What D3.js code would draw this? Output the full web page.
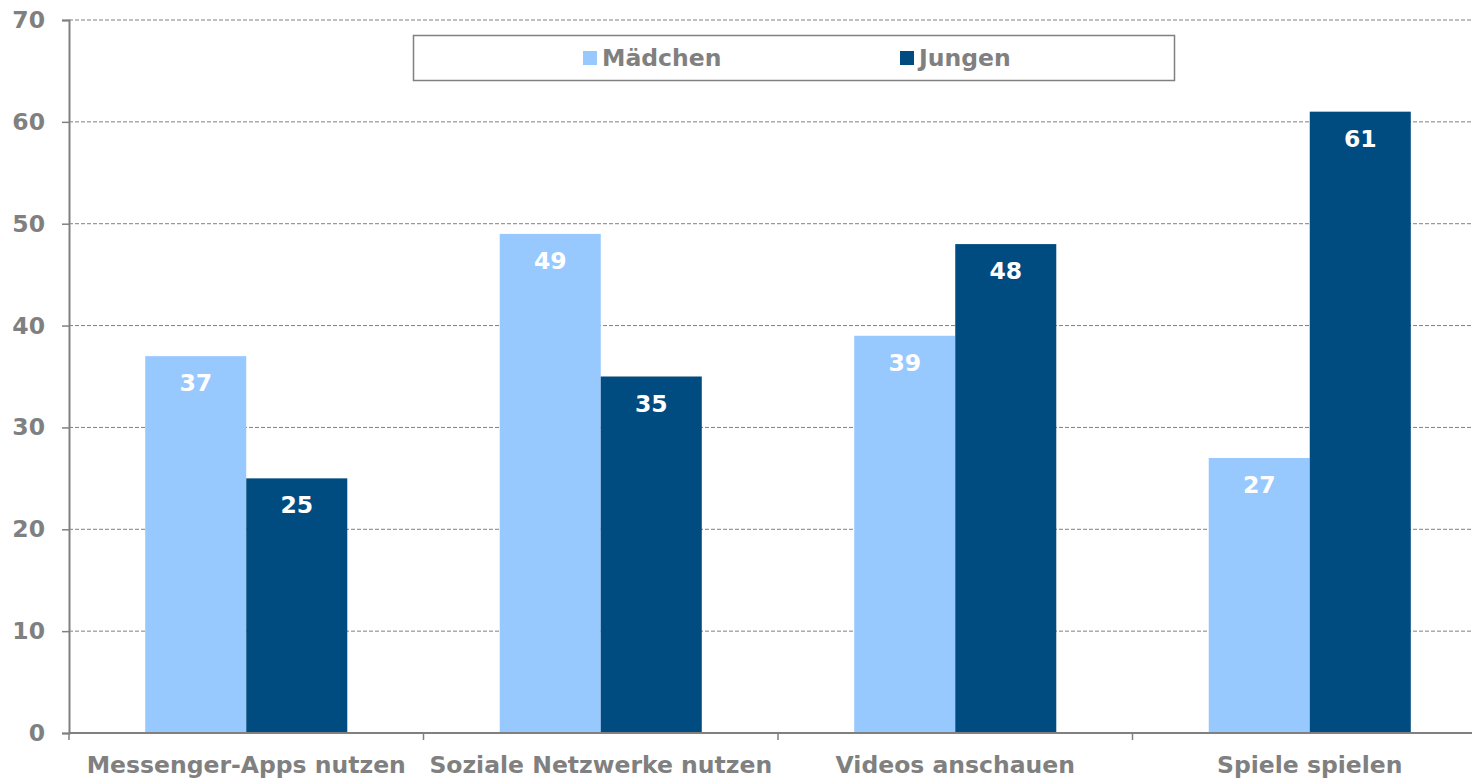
<!DOCTYPE html>
<html>
<head>
<meta charset="utf-8">
<script src="https://cdn.jsdelivr.net/npm/d3@7"></script>
<style>
  body { margin: 0; background: #fff; }
  svg { display: block; }
  text { font-family: "DejaVu Sans", Verdana, sans-serif; font-weight: bold; }
</style>
</head>
<body>
<svg id="chart" width="1472" height="779"></svg>
<script>
// data
const categories = ["Messenger-Apps nutzen", "Soziale Netzwerke nutzen", "Videos anschauen", "Spiele spielen"];
const seriesNames = ["Mädchen", "Jungen"];
const maedchen = [37, 49, 39, 27];
const jungen = [25, 35, 48, 61];
const yTicks = [0, 10, 20, 30, 40, 50, 60, 70];
const colors = ["#97C9FF", "#004B7F"];

const svg = d3.select("#chart");
const margin = {left: 69, top: 20, bottom: 46};
const plotW = 354.5 * 4;
const plotH = 779 - margin.top - margin.bottom;
const gray = "#808080";
const fs = 23.5;

const rows = categories.map((c, i) => ({cat: c, values: [maedchen[i], jungen[i]]}));

const x0 = d3.scaleBand().domain(categories).range([0, plotW]).padding(0);
const bw = x0.bandwidth();
const x1 = d3.scaleBand().domain(seriesNames).range([bw * 0.215, bw * 0.785]).padding(0);
const y = d3.scaleLinear().domain([0, 70]).range([plotH, 0]);

const g = svg.append("g").attr("transform", `translate(${margin.left},${margin.top})`);

// gridlines
g.selectAll(".grid").data(yTicks.filter(d => d > 0)).enter()
  .append("line")
  .attr("x1", 0).attr("x2", plotW)
  .attr("y1", d => y(d)).attr("y2", d => y(d))
  .attr("stroke", gray).attr("stroke-width", 1)
  .attr("stroke-dasharray", "4,2");

// bars
const groups = g.selectAll(".grp").data(rows).enter()
  .append("g").attr("transform", d => `translate(${x0(d.cat)},0)`);

groups.selectAll("rect").data(d => d.values.map((v, i) => ({s: seriesNames[i], v: v, i: i}))).enter()
  .append("rect")
  .attr("x", d => x1(d.s))
  .attr("y", d => y(d.v))
  .attr("width", x1.bandwidth())
  .attr("height", d => plotH - y(d.v))
  .attr("fill", d => colors[d.i]);

groups.selectAll(".val").data(d => d.values.map((v, i) => ({s: seriesNames[i], v: v, i: i}))).enter()
  .append("text")
  .attr("x", d => x1(d.s) + x1.bandwidth() / 2)
  .attr("y", d => y(d.v) + 35)
  .attr("text-anchor", "middle")
  .attr("fill", "#fff")
  .attr("font-size", fs)
  .text(d => d.v);

// y axis
const yAxis = g.append("g")
  .call(d3.axisLeft(y).tickValues(yTicks).tickSize(7).tickPadding(17));
yAxis.select(".domain").attr("stroke", gray).attr("stroke-width", 2);
yAxis.selectAll(".tick line").attr("stroke", gray).attr("stroke-width", 1.5);
yAxis.selectAll(".tick text")
  .attr("fill", gray).attr("font-size", fs)
  .attr("font-family", "DejaVu Sans, Verdana, sans-serif").attr("font-weight", "bold");

// x axis
const xAxis = g.append("g").attr("transform", `translate(0,${plotH})`);
xAxis.append("line").attr("x1", 0).attr("x2", plotW).attr("stroke", gray).attr("stroke-width", 2);
xAxis.selectAll(".xt").data(categories).enter()
  .append("line")
  .attr("x1", d => x0(d)).attr("x2", d => x0(d))
  .attr("y1", 0).attr("y2", 7)
  .attr("stroke", gray).attr("stroke-width", 1.5);
xAxis.selectAll(".xl").data(categories).enter()
  .append("text")
  .attr("x", d => x0(d) + bw / 2)
  .attr("y", 40)
  .attr("text-anchor", "middle")
  .attr("fill", gray)
  .attr("font-size", fs)
  .text(d => d);

// legend
const leg = svg.append("g");
leg.append("rect")
  .attr("x", 413.5).attr("y", 35.5).attr("width", 761).attr("height", 45)
  .attr("fill", "#fff").attr("stroke", gray).attr("stroke-width", 1.5);
const legX = [583, 900];
seriesNames.forEach((s, i) => {
  leg.append("rect").attr("x", legX[i]).attr("y", 51).attr("width", 14).attr("height", 14).attr("fill", colors[i]);
  leg.append("text").attr("x", legX[i] + 19).attr("y", 66)
    .attr("fill", gray).attr("font-size", fs)
    .attr("font-family", "DejaVu Sans Condensed, DejaVu Sans, sans-serif")
    .text(s);
});
</script>
</body>
</html>
